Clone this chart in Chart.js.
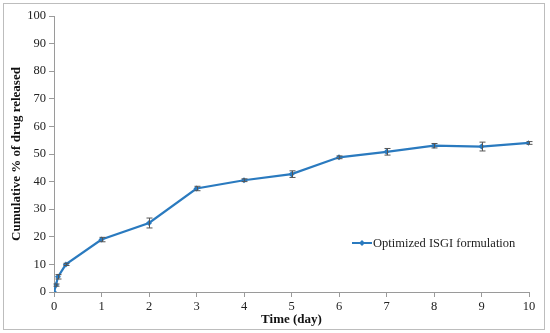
<!DOCTYPE html>
<html><head><meta charset="utf-8">
<script src="https://cdn.jsdelivr.net/npm/chart.js@4/dist/chart.umd.min.js"></script>
<style>
html,body{margin:0;padding:0;background:#fff;}
#wrap{position:relative;width:550px;height:333px;}
#frame{position:absolute;left:3px;top:3px;width:542px;height:327px;border:1px solid #bdbdbd;box-sizing:border-box;}
canvas{position:absolute;left:0;top:0;}
</style></head>
<body>
<div id="wrap"><div id="frame"></div><canvas id="c" width="550" height="333"></canvas></div>
<script>
const timeDays = [0, 0.042, 0.083, 0.25, 1, 2, 3, 4, 5, 6, 7, 8, 9, 10];
const released = [0, 2.5, 5.5, 10, 19, 25, 37.5, 40.5, 42.7, 48.8, 50.8, 53, 52.7, 54];
const errors   = [0, 0.4, 0.8, 0.4, 0.8, 1.8, 0.8, 0.5, 1.2, 0.5, 1.2, 0.8, 1.6, 0.5];
const seriesLabel = 'Optimized ISGI formulation';
const xTitle = 'Time (day)';
const yTitle = 'Cumulative % of drug released';

const BLUE = '#2a7abf';
const FONT = "'Liberation Serif', 'Times New Roman', serif";

const errorBars = {
  id: 'errorBars',
  afterDatasetsDraw(chart) {
    const {ctx, scales:{x, y}} = chart;
    ctx.save();
    ctx.strokeStyle = '#555';
    ctx.lineWidth = 1;
    timeDays.forEach((t, i) => {
      const e = errors[i];
      if (!e) return;
      const px = Math.round(x.getPixelForValue(t)) + 0.5;
      const top = y.getPixelForValue(released[i] + e);
      const bot = y.getPixelForValue(released[i] - e);
      ctx.beginPath();
      ctx.moveTo(px, top); ctx.lineTo(px, bot);
      ctx.moveTo(px - 3, top); ctx.lineTo(px + 3, top);
      ctx.moveTo(px - 3, bot); ctx.lineTo(px + 3, bot);
      ctx.stroke();
    });
    ctx.restore();
  }
};

const customLegend = {
  id: 'customLegend',
  afterDraw(chart) {
    const ctx = chart.ctx;
    const ds = chart.data.datasets[0];
    const x0 = 352, yMid = 243;
    ctx.save();
    ctx.strokeStyle = BLUE; ctx.lineWidth = 2;
    ctx.beginPath(); ctx.moveTo(x0, yMid); ctx.lineTo(x0 + 20, yMid); ctx.stroke();
    ctx.fillStyle = BLUE;
    ctx.beginPath();
    ctx.moveTo(x0 + 10, yMid - 3); ctx.lineTo(x0 + 13, yMid); ctx.lineTo(x0 + 10, yMid + 3); ctx.lineTo(x0 + 7, yMid);
    ctx.closePath(); ctx.fill();
    ctx.fillStyle = '#222';
    ctx.font = '12.5px ' + FONT;
    ctx.textBaseline = 'middle';
    ctx.fillText(ds.label, x0 + 21, yMid + 1);
    ctx.restore();
  }
};

new Chart(document.getElementById('c'), {
  type: 'line',
  data: {
    datasets: [{
      label: seriesLabel,
      data: timeDays.map((t, i) => ({x: t, y: released[i]})),
      borderColor: BLUE,
      backgroundColor: BLUE,
      borderWidth: 2.2,
      pointStyle: 'rectRot',
      pointRadius: 3,
      pointBorderWidth: 0,
      tension: 0,
      fill: false
    }]
  },
  options: {
    responsive: false,
    animation: false,
    layout: {padding: {left: 9, right: 21, top: 16, bottom: 6}},
    plugins: {legend: {display: false}, tooltip: {enabled: false}},
    scales: {
      x: {
        type: 'linear', min: 0, max: 10,
        grid: {display: true, drawOnChartArea: false, drawTicks: true, tickLength: 5, color: '#9a9a9a'},
        border: {color: '#9a9a9a', width: 1},
        ticks: {stepSize: 1, color: '#222', font: {family: FONT, size: 12.5}, padding: 2, maxRotation: 0},
        title: {display: true, text: xTitle, color: '#111', font: {family: FONT, size: 13, weight: 'bold'}, padding: {top: 0, bottom: 0}},
        afterFit(s) { s.height = 35; }
      },
      y: {
        min: 0, max: 100,
        grid: {display: true, drawOnChartArea: false, drawTicks: true, tickLength: 5, color: '#9a9a9a'},
        border: {color: '#9a9a9a', width: 1},
        ticks: {stepSize: 10, color: '#222', font: {family: FONT, size: 12.5}, padding: 3},
        title: {display: true, text: yTitle, color: '#111', font: {family: FONT, size: 13, weight: 'bold'}, padding: {top: 0, bottom: 0}},
        afterFit(s) { s.width = 45; }
      }
    }
  },
  plugins: [errorBars, customLegend]
});
</script>
</body></html>
